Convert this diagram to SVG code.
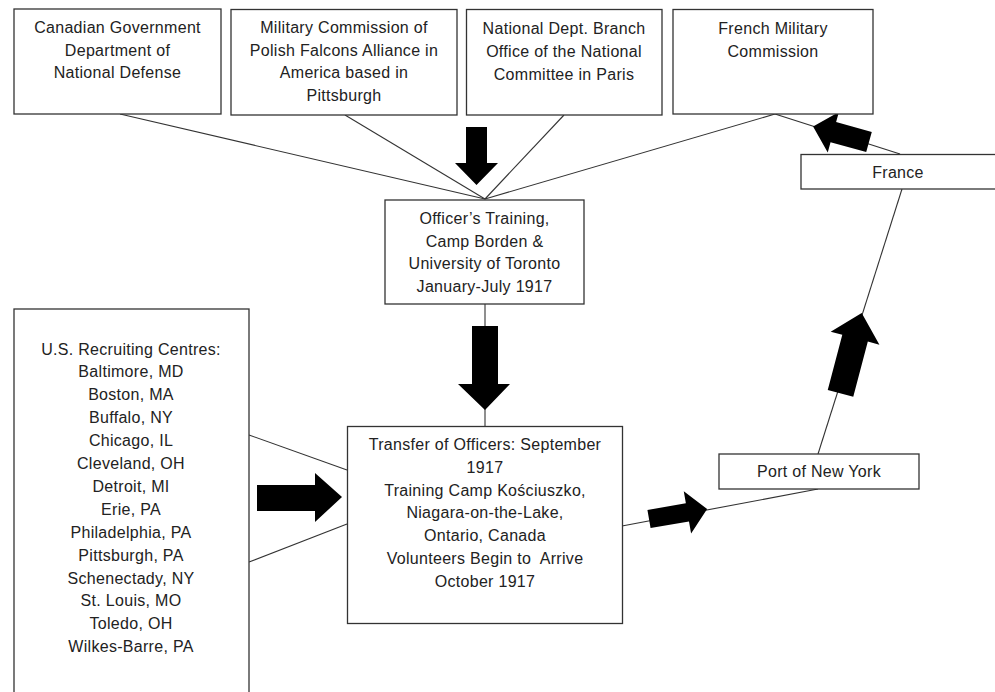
<svg xmlns="http://www.w3.org/2000/svg" width="995" height="692" viewBox="0 0 995 692">
<style>
.box{fill:#fff;stroke:#333;stroke-width:1.3}
.t{font-family:"Liberation Sans",Arial,sans-serif;font-size:16px;fill:#222;text-anchor:middle;letter-spacing:0.3px}
.ln{stroke:#333;stroke-width:1.1;fill:none}
.ar{fill:#000}
</style>
<rect width="995" height="692" fill="#fff"/>
<g id="connectors">
<line class="ln" x1="120" y1="114" x2="485" y2="199"/>
<line class="ln" x1="345" y1="115" x2="485" y2="199"/>
<line class="ln" x1="564" y1="115" x2="485" y2="199"/>
<line class="ln" x1="775" y1="114" x2="485" y2="199"/>
<line class="ln" x1="775" y1="114" x2="900" y2="154"/>
<line class="ln" x1="902" y1="189" x2="818" y2="454"/>
<line class="ln" x1="485" y1="304" x2="485" y2="426"/>
<line class="ln" x1="249" y1="435" x2="347" y2="470"/>
<line class="ln" x1="249" y1="562" x2="347" y2="524"/>
<line class="ln" x1="622" y1="526" x2="818" y2="489"/>
<polygon class="ar" points="466,127 487,127 487,163 498,163 476.5,185 455,163 466,163"/>
<polygon class="ar" points="472,326 498,326 498,384 510,384 485,410 458,384 472,384"/>
<polygon class="ar" points="257,485 315,485 315,473 342,497 315,522 315,511 257,511"/>
<polygon class="ar" transform="translate(869,142) rotate(195.4)" points="0,-10.5 37,-10.5 37,-21 58,0 37,21 37,10.5 0,10.5"/>
<polygon class="ar" transform="translate(649,519) rotate(-9.8)" points="0,-9.2 39,-9.2 39,-21.5 59,0 39,21.5 39,9.2 0,9.2"/>
<polygon class="ar" transform="translate(840.5,393.3) rotate(-75.2)" points="0,-13.2 57,-13.2 57,-25.2 83,0 57,25.2 57,13.2 0,13.2"/>
</g>
<g id="n1"><rect class="box" x="14" y="9" width="207" height="105"/>
<text class="t" x="117.5" y="33">Canadian Government</text><text class="t" x="117.5" y="55.7">Department of</text><text class="t" x="117.5" y="78.4">National Defense</text></g>
<g id="n2"><rect class="box" x="231" y="9.5" width="226" height="105.5"/>
<text class="t" x="344" y="33">Military Commission of</text><text class="t" x="344" y="55.7">Polish Falcons Alliance in</text><text class="t" x="344" y="78.4">America based in</text><text class="t" x="344" y="101">Pittsburgh</text></g>
<g id="n3"><rect class="box" x="466.5" y="9.5" width="195.5" height="105.5"/>
<text class="t" x="564" y="33.5">National Dept. Branch</text><text class="t" x="564" y="56.5">Office of the National</text><text class="t" x="564" y="79.5">Committee in Paris</text></g>
<g id="n4"><rect class="box" x="673" y="9.5" width="200" height="104.5"/>
<text class="t" x="773" y="33.5">French Military</text><text class="t" x="773" y="56.5">Commission</text></g>
<g id="n5"><rect class="box" x="801" y="154.5" width="200" height="34.5"/>
<text class="t" x="898" y="177.5">France</text></g>
<g id="n6"><rect class="box" x="385" y="200" width="199" height="104"/>
<text class="t" x="484.5" y="223.5">Officer’s Training,</text><text class="t" x="484.5" y="246.5">Camp Borden &amp;</text><text class="t" x="484.5" y="269">University of Toronto</text><text class="t" x="484.5" y="292">January-July 1917</text></g>
<g id="n7"><rect class="box" x="14" y="309" width="235" height="400"/>
<text class="t" x="131" y="354.5">U.S. Recruiting Centres:</text>
<text class="t" x="131" y="377.4">Baltimore, MD</text>
<text class="t" x="131" y="400.3">Boston, MA</text>
<text class="t" x="131" y="423.2">Buffalo, NY</text>
<text class="t" x="131" y="446.1">Chicago, IL</text>
<text class="t" x="131" y="469">Cleveland, OH</text>
<text class="t" x="131" y="491.9">Detroit, MI</text>
<text class="t" x="131" y="514.8">Erie, PA</text>
<text class="t" x="131" y="537.7">Philadelphia, PA</text>
<text class="t" x="131" y="560.6">Pittsburgh, PA</text>
<text class="t" x="131" y="583.5">Schenectady, NY</text>
<text class="t" x="131" y="606.4">St. Louis, MO</text>
<text class="t" x="131" y="629.3">Toledo, OH</text>
<text class="t" x="131" y="652.2">Wilkes-Barre, PA</text></g>
<g id="n8"><rect class="box" x="347.5" y="426.5" width="275" height="197"/>
<text class="t" x="485" y="450">Transfer of Officers: September</text>
<text class="t" x="485" y="472.8">1917</text>
<text class="t" x="485" y="495.6">Training Camp Kościuszko,</text>
<text class="t" x="485" y="518.4">Niagara-on-the-Lake,</text>
<text class="t" x="485" y="541.2">Ontario, Canada</text>
<text class="t" x="485" y="564" xml:space="preserve">Volunteers Begin to  Arrive</text>
<text class="t" x="485" y="586.8">October 1917</text></g>
<g id="n9"><rect class="box" x="719" y="454" width="200" height="35"/>
<text class="t" x="819" y="476.5">Port of New York</text></g>
</svg>
